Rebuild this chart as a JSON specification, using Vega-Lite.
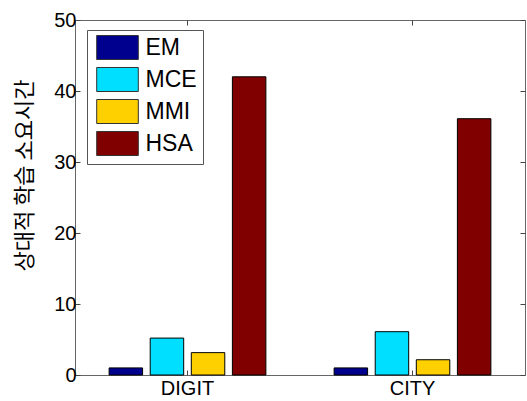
{
  "$schema": "https://vega.github.io/schema/vega-lite/v6.json",
  "width": 450,
  "height": 355,
  "autosize": {"type": "none"},
  "padding": {"left": 75, "top": 20, "right": 2, "bottom": 26},
  "background": "white",
  "config": {
    "view": {"stroke": "#666", "strokeWidth": 1},
    "font": "Liberation Sans",
    "axis": {"domain": false, "grid": false, "tickColor": "#444", "labelColor": "black", "labelFont": "Liberation Sans", "labelFontSize": 20}
  },
  "data": {
    "values": [
      {"dataset": "DIGIT", "method": "EM", "time": 1.0},
      {"dataset": "DIGIT", "method": "MCE", "time": 5.2},
      {"dataset": "DIGIT", "method": "MMI", "time": 3.15},
      {"dataset": "DIGIT", "method": "HSA", "time": 42.0},
      {"dataset": "CITY", "method": "EM", "time": 1.0},
      {"dataset": "CITY", "method": "MCE", "time": 6.1},
      {"dataset": "CITY", "method": "MMI", "time": 2.15},
      {"dataset": "CITY", "method": "HSA", "time": 36.1}
    ]
  },
  "layer": [
    {
      "mark": {"type": "bar", "stroke": "black", "strokeWidth": 1, "opacity": 1},
      "encoding": {
        "x": {
          "field": "dataset", "type": "nominal", "sort": ["DIGIT", "CITY"],
          "scale": {"paddingInner": 0, "paddingOuter": 0},
          "axis": {"title": null, "orient": "bottom", "labelAngle": 0, "tickSize": -5, "labelPadding": 8}
        },
        "xOffset": {
          "field": "method", "type": "nominal", "sort": ["EM", "MCE", "MMI", "HSA"],
          "scale": {"paddingInner": 0.185, "paddingOuter": 0.83}
        },
        "y": {
          "field": "time", "type": "quantitative",
          "scale": {"domain": [0, 50], "nice": false},
          "axis": {
            "orient": "left", "values": [0, 10, 20, 30, 40, 50], "tickSize": -5, "labelPadding": 4,
            "title": "상대적 학습 소요시간", "titleFont": "Noto Sans CJK KR", "titleFontSize": 22, "titleFontWeight": "normal",
            "titleColor": "black", "titleAngle": 270, "titleX": -39, "titleY": 155, "titleAlign": "center", "titleBaseline": "bottom"
          }
        },
        "color": {
          "field": "method", "type": "nominal",
          "scale": {"domain": ["EM", "MCE", "MMI", "HSA"], "range": ["#00008f", "#00dfff", "#ffd000", "#800000"]},
          "legend": {
            "title": null, "orient": "none", "legendX": 12, "legendY": 10,
            "padding": 6, "strokeColor": "#555", "fillColor": "white",
            "labelFont": "Liberation Sans", "labelFontSize": 23, "labelColor": "black", "labelOffset": 16.5,
            "symbolType": "M-2,-1.154L2,-1.154L2,1.154L-2,1.154Z", "symbolSize": 433, "symbolOffset": 13,
            "symbolStrokeColor": "#333", "symbolStrokeWidth": 1, "symbolOpacity": 1, "rowPadding": 3
          }
        }
      }
    },
    {
      "mark": {"type": "bar", "opacity": 0},
      "encoding": {
        "x": {
          "field": "dataset", "type": "nominal", "sort": ["DIGIT", "CITY"],
          "axis": {"title": null, "orient": "top", "labels": false, "tickSize": -5}
        },
        "y": {
          "field": "time", "type": "quantitative",
          "axis": {"title": null, "orient": "right", "labels": false, "values": [0, 10, 20, 30, 40, 50], "tickSize": -5}
        }
      }
    }
  ],
  "resolve": {"axis": {"x": "independent", "y": "independent"}}
}
